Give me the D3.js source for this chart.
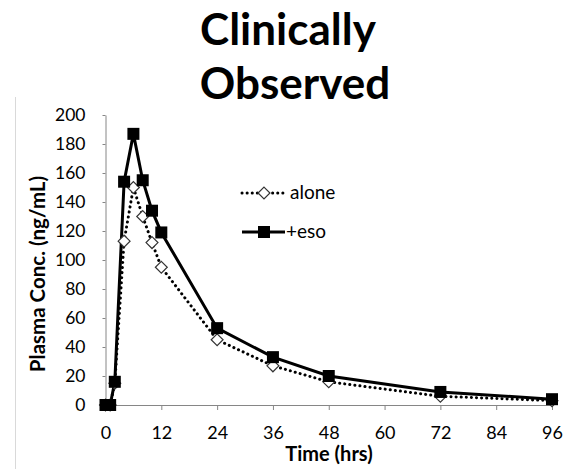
<!DOCTYPE html>
<meta charset="utf-8">
<script src="https://cdn.jsdelivr.net/npm/d3@7"></script>
<style>
body{margin:0;background:#fff;}
text{font-family:Lato,"Open Sans",sans-serif;}
.domain{stroke:#868686;}
.tick line{stroke:#868686;}
</style>
<body>
<div id="chart"></div>
<script>
var hours = [0, 1, 2, 4, 6, 8, 10, 12, 24, 36, 48, 72, 96];
var alone = [0, 0, 15, 113, 150, 130, 112, 95, 45, 27, 16, 6, 3];
var eso   = [0, 0, 16, 154, 187, 155, 134, 119, 53, 33, 20, 9, 4];
var xTicks = [0, 12, 24, 36, 48, 60, 72, 84, 96];
var yTicks = [0, 20, 40, 60, 80, 100, 120, 140, 160, 180, 200];

var W = 564, H = 469;
var svg = d3.select("#chart").append("svg")
    .attr("width", W).attr("height", H);

// faint frame line on the left
svg.append("line")
    .attr("x1", 15.5).attr("x2", 15.5)
    .attr("y1", 97).attr("y2", H)
    .attr("stroke", "#d9d9d9");

var x = d3.scaleLinear().domain([0, 96]).range([105.5, 552]);
var y = d3.scaleLinear().domain([0, 200]).range([405, 115]);

svg.append("g")
    .attr("transform", "translate(0,405)")
    .call(d3.axisBottom(x).tickValues(xTicks).tickSizeInner(5).tickSizeOuter(0).tickPadding(16))
    .call(g => g.selectAll("text").style("font-size", "18px").attr("fill", "#000"));

svg.append("g")
    .attr("transform", "translate(105.5,0)")
    .call(d3.axisLeft(y).tickValues(yTicks).tickSizeInner(3).tickSizeOuter(0).tickPadding(17))
    .call(g => g.selectAll("text").style("font-size", "17.5px").attr("fill", "#000"));

svg.append("text")
    .attr("x", 329).attr("y", 461)
    .attr("text-anchor", "middle")
    .style("font-size", "20px").style("font-weight", "bold")
    .text("Time (hrs)");

svg.append("text")
    .attr("transform", "translate(45,274) rotate(-90)")
    .attr("text-anchor", "middle")
    .style("font-size", "20.5px").style("font-weight", "bold")
    .text("Plasma Conc. (ng/mL)");

svg.append("text")
    .attr("x", 288).attr("y", 45)
    .attr("text-anchor", "middle")
    .style("font-size", "44px").style("font-weight", "bold")
    .text("Clinically");
svg.append("text")
    .attr("x", 295).attr("y", 99)
    .attr("text-anchor", "middle")
    .style("font-size", "44px").style("font-weight", "bold")
    .text("Observed");

var line = d3.line().x(d => x(d[0])).y(d => y(d[1]));
var aloneData = hours.map((h, i) => [h, alone[i]]);
var esoData = hours.map((h, i) => [h, eso[i]]);

svg.append("path").datum(aloneData)
    .attr("d", line).attr("fill", "none")
    .attr("stroke", "#000").attr("stroke-width", 3)
    .attr("stroke-dasharray", "0.1 5").attr("stroke-linecap", "round");

svg.append("path").datum(esoData)
    .attr("d", line).attr("fill", "none")
    .attr("stroke", "#000").attr("stroke-width", 3);

var diamond = d3.symbol().type(d3.symbolDiamond2).size(90);
svg.selectAll(".dia").data(aloneData).enter()
    .append("path").attr("class", "dia")
    .attr("d", diamond)
    .attr("transform", d => "translate(" + x(d[0]) + "," + y(d[1]) + ")")
    .attr("fill", "#fff").attr("stroke", "#333").attr("stroke-width", 1.2);

svg.selectAll(".sq").data(esoData).enter()
    .append("rect").attr("class", "sq")
    .attr("x", d => x(d[0]) - 6).attr("y", d => y(d[1]) - 6)
    .attr("width", 12).attr("height", 12)
    .attr("fill", "#000");

// legend
var lg = svg.append("g");
lg.append("line").attr("x1", 242).attr("x2", 284).attr("y1", 193).attr("y2", 193)
    .attr("stroke", "#000").attr("stroke-width", 3)
    .attr("stroke-dasharray", "0.1 5").attr("stroke-linecap", "round");
lg.append("path").attr("d", diamond)
    .attr("transform", "translate(264,193)")
    .attr("fill", "#fff").attr("stroke", "#333").attr("stroke-width", 1.2);
lg.append("text").attr("x", 290).attr("y", 199)
    .style("font-size", "19px").text("alone");

lg.append("line").attr("x1", 242).attr("x2", 285).attr("y1", 232).attr("y2", 232)
    .attr("stroke", "#000").attr("stroke-width", 3);
lg.append("rect").attr("x", 258).attr("y", 226).attr("width", 12).attr("height", 12)
    .attr("fill", "#000");
lg.append("text").attr("x", 286).attr("y", 238)
    .style("font-size", "19px").text("+eso");
</script>
</body>
</html>
